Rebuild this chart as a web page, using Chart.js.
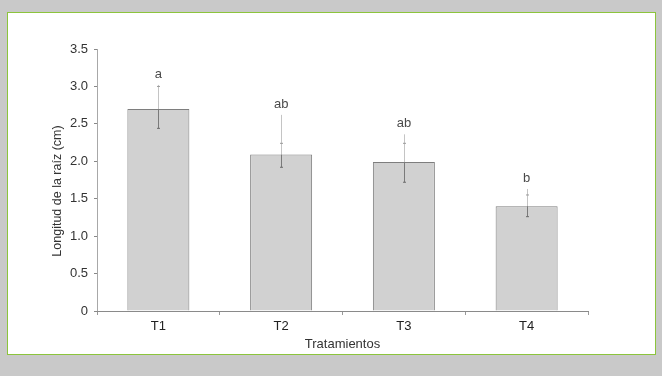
<!DOCTYPE html>
<html>
<head>
<meta charset="utf-8">
<script src="https://cdn.jsdelivr.net/npm/chart.js@4"></script>
<style>
  html, body { margin: 0; padding: 0; }
  body { width: 662px; height: 376px; background: #c9c9c9; position: relative; overflow: hidden; }
  #panel { position: absolute; left: 7px; top: 12px; width: 647px; height: 341px; background: #fff; border: 1px solid #8cc43c; }
  #wrap { position: absolute; left: 0; top: 0; width: 662px; height: 376px; }
</style>
</head>
<body>
<div id="panel"></div>
<div id="wrap"><canvas id="c" width="662" height="376"></canvas></div>
<script>
// Root length by treatment (mean, error limits, significance letters)
const tratamientos = ['T1', 'T2', 'T3', 'T4'];
const longitud = [2.70, 2.09, 1.99, 1.40];
const errSuperior = [3.02, 2.62, 2.36, 1.63];
const errCapa = [3.00, 2.24, 2.24, 1.55];
const errInferior = [2.44, 1.92, 1.72, 1.26];
const letras = ['a', 'ab', 'ab', 'b'];
const yTicks = [0, 0.5, 1.0, 1.5, 2.0, 2.5, 3.0, 3.5];

const FONT = "'Liberation Sans', Arial, sans-serif";

const errorBars = {
  id: 'errorBars',
  afterDatasetsDraw(chart) {
    const ctx = chart.ctx;
    const y = chart.scales.y;
    const meta = chart.getDatasetMeta(0);
    ctx.save();
    meta.data.forEach((bar, i) => {
      const x = Math.round(bar.x) + 0.5;
      const yTop = y.getPixelForValue(errSuperior[i]);
      const yMean = y.getPixelForValue(longitud[i]);
      const yLow = y.getPixelForValue(errInferior[i]);
      const yCap = y.getPixelForValue(errCapa[i]);
      ctx.lineWidth = 1;
      // upper whisker (outside the bar)
      ctx.strokeStyle = '#c4c4c4';
      ctx.beginPath(); ctx.moveTo(x, yTop); ctx.lineTo(x, yMean); ctx.stroke();
      // lower whisker (inside the bar)
      ctx.strokeStyle = '#7a7a7a';
      ctx.beginPath(); ctx.moveTo(x, yMean); ctx.lineTo(x, yLow); ctx.stroke();
      // small caps
      ctx.strokeStyle = '#9a9a9a';
      ctx.beginPath(); ctx.moveTo(x - 1.5, yCap); ctx.lineTo(x + 1.5, yCap); ctx.stroke();
      ctx.strokeStyle = '#6a6a6a';
      ctx.beginPath(); ctx.moveTo(x - 1.5, yLow); ctx.lineTo(x + 1.5, yLow); ctx.stroke();
      // significance letter
      ctx.fillStyle = '#4a4a4a';
      ctx.font = '13px ' + FONT;
      ctx.textAlign = 'center';
      ctx.textBaseline = 'bottom';
      ctx.fillText(letras[i], bar.x, yTop - 4);
    });
    // y-axis title
    ctx.translate(58, 191);
    ctx.rotate(-Math.PI / 2);
    ctx.fillStyle = '#333';
    ctx.font = '12.5px ' + FONT;
    ctx.textAlign = 'center';
    ctx.textBaseline = 'middle';
    ctx.fillText('Longitud de la raíz (cm)', 0, 0);
    ctx.restore();
  }
};

new Chart(document.getElementById('c'), {
  type: 'bar',
  data: {
    labels: tratamientos,
    datasets: [{
      data: longitud,
      backgroundColor: '#d1d1d1',
      borderColor: '#7e7e7e',
      borderWidth: { top: 1, left: 1, right: 1, bottom: 0 },
      borderSkipped: 'bottom',
      barPercentage: 0.505,
      categoryPercentage: 1.0
    }]
  },
  options: {
    responsive: false,
    animation: false,
    devicePixelRatio: 1,
    layout: { padding: { left: 50, top: 49, right: 74, bottom: 24 } },
    plugins: { legend: { display: false }, tooltip: { enabled: false } },
    scales: {
      y: {
        min: 0, max: 3.5,
        afterFit(s) { s.width = 47; },
        afterBuildTicks(s) { s.ticks = yTicks.map(v => ({ value: v })); },
        border: { color: '#a8a8a8', width: 1 },
        grid: { drawOnChartArea: false, drawTicks: true, tickLength: 3, color: '#888' },
        ticks: {
          color: '#333',
          font: { family: FONT, size: 13 },
          padding: 6,
          callback: v => v === 0 ? '0' : v.toFixed(1)
        }
      },
      x: {
        afterFit(s) { s.height = 41; },
        border: { color: '#8a8a8a', width: 1 },
        grid: { offset: true, drawOnChartArea: false, drawTicks: true, tickLength: 4, color: '#999' },
        ticks: { color: '#222', font: { family: FONT, size: 13 }, padding: 4 },
        title: {
          display: true,
          text: 'Tratamientos',
          color: '#333',
          font: { family: FONT, size: 13 },
          padding: { top: 0, bottom: 0 }
        }
      }
    }
  },
  plugins: [errorBars]
});
</script>
</body>
</html>
